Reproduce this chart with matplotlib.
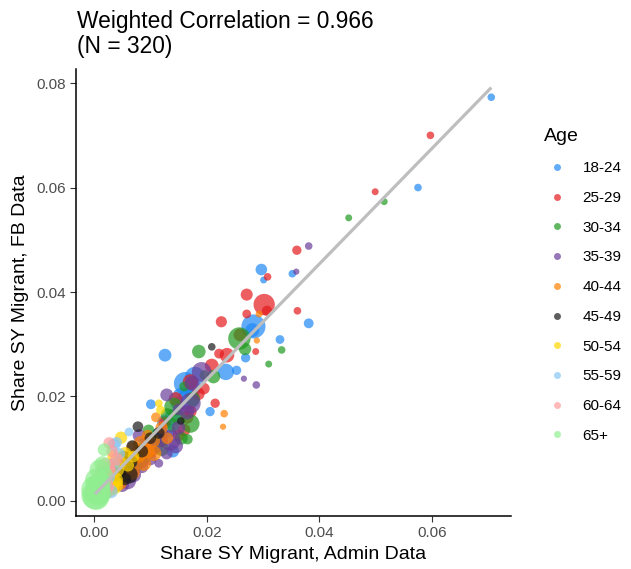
import matplotlib.pyplot as plt
from matplotlib.lines import Line2D
import numpy as np

plt.rcParams['font.family'] = ['Liberation Sans', 'DejaVu Sans']

# Age groups and colours
ages = ['18-24', '25-29', '30-34', '35-39', '40-44', '45-49', '50-54', '55-59', '60-64', '65+']
colors = ['#1E88F5', '#E41A1C', '#1F9A1F', '#6A3D9A', '#FF7F00',
          '#1A1A1A', '#FFD700', '#87C5F5', '#FF9C9C', '#90EE90']

# Share SY migrant: admin data (x), FB data (y), weight (population)
x_18_24 = [0.0705, 0.0575, 0.0297, 0.0301, 0.0352, 0.0381, 0.0330, 0.0283, 0.0281, 0.0269, 0.0253,
           0.0234, 0.0126, 0.0162, 0.0179, 0.0168, 0.0147, 0.0101, 0.0206, 0.0155, 0.0140, 0.0125,
           0.0110, 0.0132, 0.0090, 0.0075, 0.0060, 0.0045, 0.0030, 0.0020, 0.0140, 0.0175]
y_18_24 = [0.0773, 0.0600, 0.0443, 0.0423, 0.0435, 0.0340, 0.0309, 0.0334, 0.0327, 0.0274, 0.0250,
           0.0247, 0.0279, 0.0225, 0.0238, 0.0196, 0.0187, 0.0185, 0.0171, 0.0200, 0.0160, 0.0150,
           0.0125, 0.0135, 0.0110, 0.0080, 0.0060, 0.0040, 0.0025, 0.0018, 0.0095, 0.0210]
w_18_24 = [4, 4, 12, 3, 4, 8, 6, 58, 18, 7, 7,
           26, 15, 52, 38, 48, 14, 8, 7, 30, 25, 20,
           14, 20, 12, 12, 10, 10, 12, 15, 14, 20]

x_25_29 = [0.0597, 0.0499, 0.0360, 0.0308, 0.0271, 0.0302, 0.0307, 0.0361, 0.0271, 0.0226, 0.0259,
           0.0287, 0.0222, 0.0236, 0.0209, 0.0171, 0.0171, 0.0215, 0.0160, 0.0150, 0.0145, 0.0185,
           0.0120, 0.0100, 0.0085, 0.0070, 0.0055, 0.0040, 0.0030, 0.0165, 0.0125, 0.0195]
y_25_29 = [0.0700, 0.0592, 0.0480, 0.0429, 0.0395, 0.0376, 0.0364, 0.0364, 0.0358, 0.0343, 0.0318,
           0.0286, 0.0282, 0.0279, 0.0259, 0.0228, 0.0171, 0.0187, 0.0136, 0.0125, 0.0195, 0.0205,
           0.0115, 0.0095, 0.0075, 0.0060, 0.0048, 0.0040, 0.0030, 0.0160, 0.0150, 0.0215]
w_25_29 = [4, 3, 7, 4, 13, 45, 9, 4, 6, 11, 15,
           3, 8, 20, 18, 22, 14, 7, 14, 12, 18, 15,
           15, 18, 16, 15, 18, 15, 18, 15, 12, 12]

x_30_34 = [0.0515, 0.0452, 0.0333, 0.0310, 0.0258, 0.0268, 0.0186, 0.0212, 0.0196, 0.0160, 0.0171,
           0.0166, 0.0141, 0.0097, 0.0110, 0.0150, 0.0130, 0.0090, 0.0075, 0.0060, 0.0050, 0.0120,
           0.0155, 0.0085, 0.0038, 0.0065, 0.0175, 0.0140]
y_30_34 = [0.0573, 0.0542, 0.0289, 0.0262, 0.0311, 0.0291, 0.0286, 0.0238, 0.0241, 0.0219, 0.0148,
           0.0118, 0.0180, 0.0135, 0.0120, 0.0160, 0.0165, 0.0085, 0.0068, 0.0050, 0.0042, 0.0100,
           0.0120, 0.0100, 0.0032, 0.0075, 0.0195, 0.0145]
w_30_34 = [3, 3, 4, 3, 50, 14, 17, 17, 8, 8, 33,
           9, 33, 12, 18, 20, 16, 16, 18, 15, 15, 20,
           15, 12, 12, 12, 20, 17]

x_35_39 = [0.0381, 0.0359, 0.0266, 0.0288, 0.0191, 0.0174, 0.0171, 0.0129, 0.0135, 0.0129, 0.0115,
           0.0145, 0.0080, 0.0110, 0.0150, 0.0095, 0.0070, 0.0060, 0.0050, 0.0100, 0.0165, 0.0120,
           0.0085, 0.0045, 0.0150]
y_35_39 = [0.0488, 0.0439, 0.0234, 0.0222, 0.0247, 0.0225, 0.0187, 0.0203, 0.0116, 0.0091, 0.0072,
           0.0105, 0.0125, 0.0105, 0.0140, 0.0110, 0.0050, 0.0038, 0.0030, 0.0080, 0.0170, 0.0130,
           0.0065, 0.0045, 0.0175]
w_35_39 = [4, 2, 2, 4, 38, 21, 42, 15, 42, 13, 6,
           20, 15, 20, 17, 16, 22, 26, 17, 14, 20, 16,
           14, 12, 12]

x_40_44 = [0.0293, 0.0289, 0.0231, 0.0229, 0.0106, 0.0088, 0.0085, 0.0070, 0.0062, 0.0050, 0.0040,
           0.0032, 0.0095, 0.0105, 0.0095, 0.0078, 0.0120, 0.0058, 0.0045, 0.0130, 0.0068, 0.0110,
           0.0025]
y_40_44 = [0.0358, 0.0307, 0.0167, 0.0142, 0.0091, 0.0072, 0.0108, 0.0100, 0.0080, 0.0055, 0.0042,
           0.0030, 0.0095, 0.0115, 0.0125, 0.0088, 0.0140, 0.0068, 0.0035, 0.0120, 0.0055, 0.0160,
           0.0025]
w_40_44 = [3, 2, 4, 2, 22, 22, 30, 22, 26, 26, 30,
           26, 20, 17, 12, 26, 14, 22, 22, 12, 22, 8,
           22]

x_45_49 = [0.0209, 0.0154, 0.0078, 0.0062, 0.0053, 0.0068, 0.0040, 0.0032, 0.0025, 0.0085, 0.0065,
           0.0100, 0.0045, 0.0020, 0.0115, 0.0055]
y_45_49 = [0.0295, 0.0153, 0.0142, 0.0050, 0.0084, 0.0105, 0.0065, 0.0045, 0.0035, 0.0095, 0.0075,
           0.0120, 0.0055, 0.0025, 0.0130, 0.0042]
w_45_49 = [4, 4, 10, 30, 14, 12, 14, 17, 14, 14, 17,
           12, 17, 17, 12, 14]

x_50_54 = [0.0115, 0.0118, 0.0048, 0.0040, 0.0034, 0.0030, 0.0055, 0.0035, 0.0020, 0.0045, 0.0060,
           0.0018, 0.0038, 0.0070, 0.0025]
y_50_54 = [0.0187, 0.0174, 0.0121, 0.0060, 0.0031, 0.0025, 0.0090, 0.0085, 0.0020, 0.0075, 0.0068,
           0.0035, 0.0040, 0.0085, 0.0055]
w_50_54 = [4, 6, 14, 22, 38, 26, 17, 14, 30, 16, 14,
           22, 22, 12, 17]

x_55_59 = [0.0062, 0.0016, 0.0035, 0.0040, 0.0020, 0.0010, 0.0035, 0.0025, 0.0012, 0.0045, 0.0030]
y_55_59 = [0.0132, 0.0056, 0.0107, 0.0112, 0.0030, 0.0020, 0.0070, 0.0045, 0.0012, 0.0090, 0.0018]
w_55_59 = [6, 12, 15, 10, 17, 22, 14, 17, 26, 12, 17]

x_60_64 = [0.0027, 0.0021, 0.0015, 0.0010, 0.0025, 0.0032, 0.0008, 0.0040, 0.0018, 0.0005, 0.0022]
y_60_64 = [0.0111, 0.0065, 0.0050, 0.0030, 0.0060, 0.0095, 0.0018, 0.0080, 0.0040, 0.0010, 0.0028]
w_60_64 = [12, 30, 26, 26, 22, 12, 30, 15, 22, 26, 22]

x_65p = [0.0018, 0.0003, 0.0005, 0.0010, 0.0002, 0.0008, 0.0012, 0.0006, 0.0015, 0.0004, 0.0020]
y_65p = [0.0098, 0.0021, 0.0040, 0.0060, 0.0010, 0.0015, 0.0035, 0.0028, 0.0070, 0.0008, 0.0050]
w_65p = [15, 85, 55, 40, 75, 62, 40, 55, 25, 70, 22]

# weighted linear fit
fit_intercept = 0.0011
fit_slope = 1.107

groups = [
    (x_18_24, y_18_24, w_18_24), (x_25_29, y_25_29, w_25_29), (x_30_34, y_30_34, w_30_34),
    (x_35_39, y_35_39, w_35_39), (x_40_44, y_40_44, w_40_44), (x_45_49, y_45_49, w_45_49),
    (x_50_54, y_50_54, w_50_54), (x_55_59, y_55_59, w_55_59), (x_60_64, y_60_64, w_60_64),
    (x_65p, y_65p, w_65p),
]

fig = plt.figure(figsize=(6.31, 5.69), dpi=100)
ax = fig.add_axes([0.1204, 0.0931, 0.6894, 0.7856])

for (xs, ys, ws), col in zip(groups, colors):
    ax.scatter(xs, ys, s=10 + 5.0 * np.array(ws), color=col, alpha=0.7,
               linewidths=0, zorder=2)

all_x = np.concatenate([g[0] for g in groups])
xl = np.array([all_x.min(), all_x.max()])
ax.plot(xl, fit_intercept + fit_slope * xl, color='#BEBEBE', lw=2.3,
        solid_capstyle='butt', zorder=3)

ax.set_xlim(-0.0032, 0.0740)
ax.set_ylim(-0.0029, 0.0827)
ax.set_xticks([0.0, 0.02, 0.04, 0.06])
ax.set_xticklabels(['0.00', '0.02', '0.04', '0.06'])
ax.set_yticks([0.0, 0.02, 0.04, 0.06, 0.08])
ax.set_yticklabels(['0.00', '0.02', '0.04', '0.06', '0.08'])
ax.tick_params(labelsize=11, labelcolor='#4D4D4D', color='#333333',
               length=4, width=0.8)
for sp in ['top', 'right']:
    ax.spines[sp].set_visible(False)
for sp in ['left', 'bottom']:
    ax.spines[sp].set_linewidth(1.1)

ax.set_xlabel('Share SY Migrant, Admin Data', fontsize=14, labelpad=4)
ax.set_ylabel('Share SY Migrant, FB Data', fontsize=14, labelpad=5)

fig.text(0.122, 0.982, 'Weighted Correlation = 0.966\n(N = 320)', fontsize=16.4,
         ha='left', va='top', linespacing=1.08)

handles = [Line2D([], [], marker='o', linestyle='', markersize=5, color=c,
                  alpha=0.7, markeredgewidth=0) for c in colors]
leg = fig.legend(handles, ages, loc='upper left', bbox_to_anchor=(0.853, 0.785),
                 frameon=False, title='Age', fontsize=11, title_fontsize=14,
                 labelspacing=1.03, handletextpad=0.9, handlelength=1.6,
                 borderaxespad=0)
leg._legend_box.align = 'left'

fig.savefig('out.png', dpi=100)
